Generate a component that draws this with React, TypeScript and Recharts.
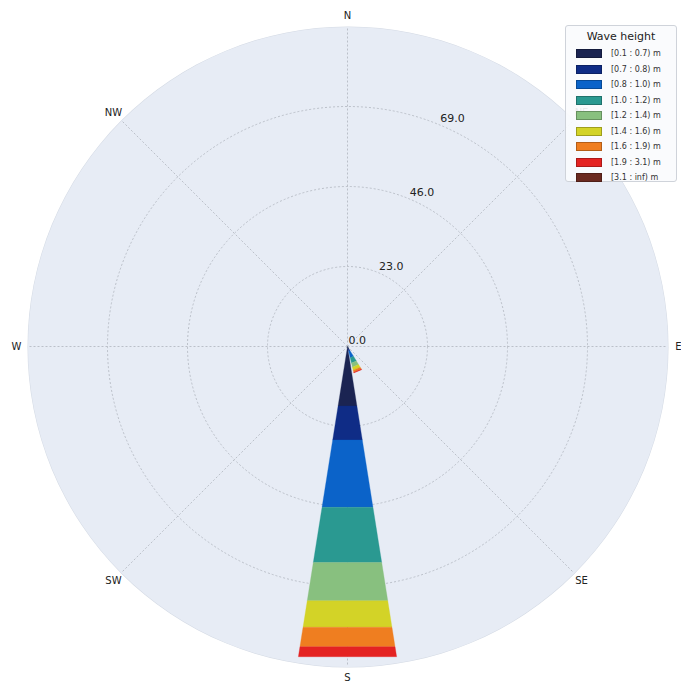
import React from "react";
import {
  RadialBarChart,
  RadialBar,
  PolarAngleAxis,
  PolarRadiusAxis,
  PolarGrid,
} from "recharts";

const directions = [
  "N", "NNE", "NE", "ENE", "E", "ESE", "SE", "SSE",
  "S", "SSW", "SW", "WSW", "W", "WNW", "NW", "NNW",
];
const mainDirections = ["N", "NE", "E", "SE", "S", "SW", "W", "NW"];

const binLabels = [
  "[0.1 : 0.7) m",
  "[0.7 : 0.8) m",
  "[0.8 : 1.0) m",
  "[1.0 : 1.2) m",
  "[1.2 : 1.4) m",
  "[1.4 : 1.6) m",
  "[1.6 : 1.9) m",
  "[1.9 : 3.1) m",
  "[3.1 : inf) m",
];
const binColors = [
  "#1b2452",
  "#0f2c86",
  "#0b63c9",
  "#2a9991",
  "#88c07f",
  "#d3d327",
  "#ef7e20",
  "#e42322",
  "#6a2a20",
];

// frequency (%) per wave height bin, only S and SSE have data
const southValues = [17.3, 9.9, 19.6, 16.1, 11.1, 7.7, 5.7, 2.9, 0];
const sseValues = [0.8, 0.6, 1.9, 1.6, 1.2, 0.9, 0.6, 0.2, 0];

const radiusTicks = [0, 23, 46, 69];
const radiusMax = 92;

const CX = 347.5;
const CY = 346.5;
const R = 320;
const FONT = "'DejaVu Sans', sans-serif";
// recharts puts category ticks at the band edge on angle axes,
// bars sit half a sector further on, so labels get turned back by that much
const HALF_SECTOR = 11.25;
const RAD = Math.PI / 180;

const data = directions.map((dir) => {
  const row: Record<string, any> = { dir };
  binLabels.forEach((_, i) => {
    if (dir === "S") row["b" + i] = southValues[i];
    else if (dir === "SSE") row["b" + i] = sseValues[i];
    else row["b" + i] = 0;
  });
  return row;
});

// straight-edged segments like the matplotlib windrose bars
function FlatSegment(props: any) {
  const { cx, cy, innerRadius, outerRadius, startAngle, endAngle, fill } = props;
  if (!(outerRadius > innerRadius)) return null;
  const pt = (r: number, a: number) =>
    `${cx + r * Math.cos(a * RAD)},${cy - r * Math.sin(a * RAD)}`;
  const points = [
    pt(innerRadius, startAngle),
    pt(outerRadius, startAngle),
    pt(outerRadius, endAngle),
    pt(innerRadius, endAngle),
  ].join(" ");
  return <polygon points={points} fill={fill} stroke={fill} strokeWidth={0.3} />;
}

function AngleTick(props: any) {
  const { x, y, payload } = props;
  if (!mainDirections.includes(payload.value)) return null;
  const a = (Math.atan2(CY - y, x - CX) * 180) / Math.PI + HALF_SECTOR;
  const r = R + 11;
  return (
    <text
      x={CX + r * Math.cos(a * RAD)}
      y={CY - r * Math.sin(a * RAD)}
      textAnchor="middle"
      dominantBaseline="central"
      fontSize={10}
      fontFamily={FONT}
      fill="#222"
    >
      {payload.value}
    </text>
  );
}

function RadiusTick(props: any) {
  const { x, y, payload } = props;
  return (
    <text
      x={x + 1}
      y={y - 3}
      textAnchor="start"
      fontSize={11}
      fontFamily={FONT}
      fill="#222"
    >
      {Number(payload.value).toFixed(1)}
    </text>
  );
}

function WaveLegend() {
  return (
    <div
      style={{
        position: "absolute",
        left: 565,
        top: 25,
        width: 112,
        height: 157,
        boxSizing: "border-box",
        background: "rgba(250,251,253,0.92)",
        border: "1px solid #cfd3da",
        borderRadius: 3,
        fontFamily: FONT,
        padding: "4px 0 0 10px",
      }}
    >
      <div style={{ fontSize: 11, color: "#222", textAlign: "center", marginLeft: -10, marginBottom: 3 }}>
        Wave height
      </div>
      {binLabels.map((label, i) => (
        <div key={label} style={{ display: "flex", alignItems: "center", height: 15.5 }}>
          <div
            style={{
              width: 24,
              height: 7,
              background: binColors[i],
              border: "0.5px solid rgba(0,0,0,0.25)",
              marginRight: 9,
            }}
          />
          <span style={{ fontSize: 8, color: "#333", whiteSpace: "nowrap" }}>{label}</span>
        </div>
      ))}
    </div>
  );
}

export default function App() {
  return (
    <div style={{ position: "absolute", left: 0, top: 0, width: 681, height: 686, background: "#fff" }}>
      <div
        style={{
          position: "absolute",
          left: CX - R,
          top: CY - R,
          width: R * 2,
          height: R * 2,
          borderRadius: "50%",
          background: "#e7ecf5",
          boxShadow: "0 0 0 0.5px #d4dae4",
        }}
      />
      <div style={{ position: "absolute", left: 0, top: 0 }}>
        <RadialBarChart
          width={681}
          height={686}
          data={data}
          cx={CX}
          cy={CY}
          innerRadius={0}
          outerRadius={R}
          startAngle={90 - HALF_SECTOR}
          endAngle={90 - HALF_SECTOR - 360}
          layout="centric"
          barCategoryGap="10%"
          margin={{ top: 0, right: 0, bottom: 0, left: 0 }}
        >
          <PolarGrid
            gridType="circle"
            polarAngles={[90, 45, 0, -45, -90, -135, 180, 135]}
            stroke="#b0b5be"
            strokeWidth={0.8}
            strokeDasharray="2 2"
          />
          <PolarAngleAxis
            type="category"
            dataKey="dir"
            tick={AngleTick}
            tickLine={false}
            axisLine={false}
            tickSize={11}
          />
          <PolarRadiusAxis
            type="number"
            domain={[0, radiusMax]}
            ticks={radiusTicks}
            angle={67.5}
            tick={RadiusTick}
            axisLine={false}
            tickLine={false}
            orientation="right"
          />
          {binLabels.map((label, i) => (
            <RadialBar
              key={label}
              dataKey={"b" + i}
              name={label}
              stackId="a"
              fill={binColors[i]}
              shape={FlatSegment}
              isAnimationActive={false}
            />
          ))}
        </RadialBarChart>
      </div>
      <WaveLegend />
    </div>
  );
}
